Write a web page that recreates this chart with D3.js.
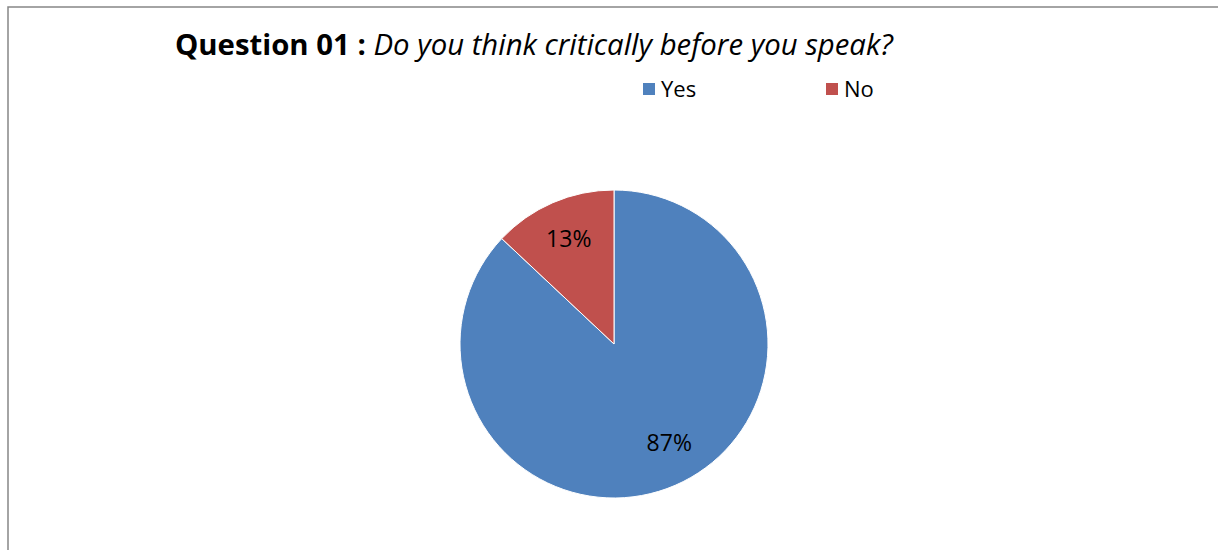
<!DOCTYPE html>
<html lang="en">
<head>
<meta charset="utf-8">
<title>Question 01 pie</title>
<script src="https://cdn.jsdelivr.net/npm/d3@7"></script>
<style>
  body { margin: 0; background: #fff; }
  svg text { font-family: "Open Sans", sans-serif; fill: #000; }
</style>
</head>
<body>
<script>
var categories = ["Yes", "No"];
var values = [87, 13];
var labels = ["87%", "13%"];
var colors = ["#4f81bd", "#c0504d"];

var width = 1218, height = 550;
var cx = 614, cy = 344, radius = 154;

var svg = d3.select("body").append("svg")
    .attr("width", width)
    .attr("height", height);

// chart area border (runs off the right and bottom)
svg.append("rect")
    .attr("x", 8).attr("y", 7)
    .attr("width", 1240).attr("height", 600)
    .attr("fill", "#fff")
    .attr("stroke", "#868686")
    .attr("stroke-width", 1.5);

// title
var title = svg.append("text")
    .attr("x", 175).attr("y", 55)
    .style("font-size", "24px");
title.append("tspan").style("font-weight", "bold").text("Question 01 : ");
title.append("tspan").style("font-style", "italic").text("Do you think critically before you speak?");
var tw = title.node().getComputedTextLength();
title.style("font-size", (24 * 718 / tw) + "px");

// legend
var legendX = d3.scalePoint().domain(categories).range([643, 826]);
var leg = svg.selectAll(".legend")
    .data(categories)
  .enter().append("g")
    .attr("class", "legend")
    .attr("transform", function(d) { return "translate(" + legendX(d) + ",83)"; });
leg.append("rect")
    .attr("width", 12).attr("height", 12)
    .attr("fill", function(d, i) { return colors[i]; });
leg.append("text")
    .attr("x", 18).attr("y", 14)
    .style("font-size", "22px")
    .text(function(d) { return d; });

// pie
var pie = d3.pie().sort(null).value(function(d) { return d; });
var arc = d3.arc().innerRadius(0).outerRadius(radius);
var labelArc = d3.arc().innerRadius(radius * 0.74).outerRadius(radius * 0.74);

var g = svg.append("g").attr("transform", "translate(" + cx + "," + cy + ")");
var arcs = pie(values);

g.selectAll("path")
    .data(arcs)
  .enter().append("path")
    .attr("d", arc)
    .attr("fill", function(d, i) { return colors[i]; })
    .attr("stroke", "#fff")
    .attr("stroke-width", 1);

g.selectAll(".lbl")
    .data(arcs)
  .enter().append("text")
    .attr("class", "lbl")
    .attr("transform", function(d) {
      var c = labelArc.centroid(d);
      // big slice label sits a bit further right, as in the source
      if (d.index === 0) c = [c[0] + 10, c[1] - 6];
      return "translate(" + c + ")";
    })
    .attr("text-anchor", "middle")
    .attr("dy", "0.35em")
    .style("font-size", "23px")
    .text(function(d, i) { return labels[i]; });
</script>
</body>
</html>
